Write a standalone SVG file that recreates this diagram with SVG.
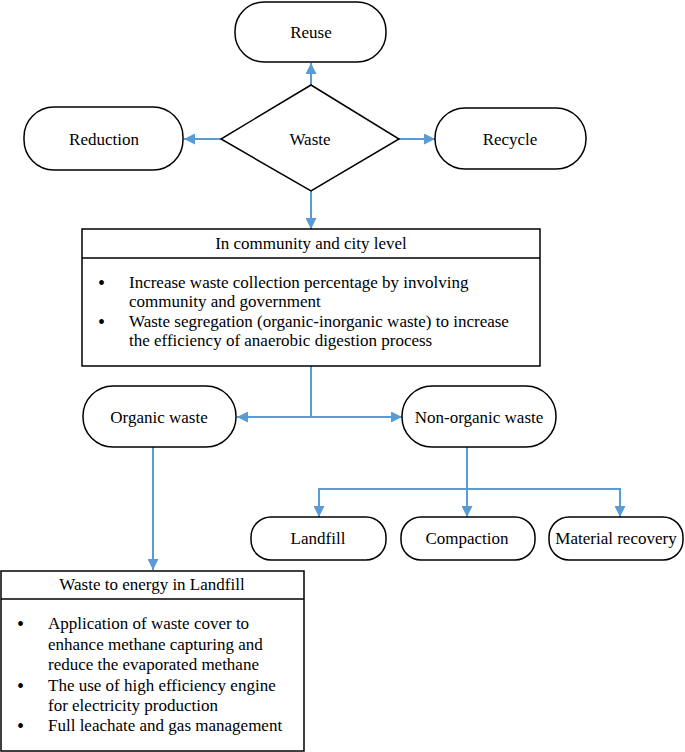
<svg xmlns="http://www.w3.org/2000/svg" width="685" height="752" viewBox="0 0 685 752">
<defs>
<style>
.n{fill:#fff;stroke:#000;stroke-width:1.5}
.t{font-size:17px;fill:#000}
.c{text-anchor:middle}
.b{font-size:20px}
.k{fill:none;stroke:#5B9BD5;stroke-width:2}
</style>
<marker id="a" viewBox="0 0 10 10" refX="10" refY="5" markerWidth="5.5" markerHeight="5.5" orient="auto-start-reverse" markerUnits="strokeWidth">
<path d="M0,0 L10,5 L0,10 z" fill="#5B9BD5"/>
</marker>
</defs>
<rect width="685" height="752" fill="#fff"/>
<g id="connectors">
<line class="k" x1="311" y1="85" x2="311" y2="63" marker-end="url(#a)"/>
<line class="k" x1="221" y1="139" x2="184" y2="139" marker-end="url(#a)"/>
<line class="k" x1="399" y1="139" x2="435" y2="139" marker-end="url(#a)"/>
<line class="k" x1="311" y1="191" x2="311" y2="229" marker-end="url(#a)"/>
<line class="k" x1="311" y1="366" x2="311" y2="417"/>
<line class="k" x1="237" y1="417" x2="402" y2="417" marker-start="url(#a)" marker-end="url(#a)"/>
<line class="k" x1="467" y1="447" x2="467" y2="517" marker-end="url(#a)"/>
<polyline class="k" points="319,517 319,489 620,489 620,517" marker-start="url(#a)" marker-end="url(#a)"/>
<line class="k" x1="153" y1="447" x2="153" y2="570" marker-end="url(#a)"/>
</g>
<g font-family="'Liberation Serif', 'Times New Roman', Times, serif">
<g id="reuse"><rect class="n" x="235" y="2" width="151" height="60" rx="29"/><text class="t c" x="311" y="38">Reuse</text></g>
<g id="reduction"><rect class="n" x="24" y="107" width="159" height="63" rx="30"/><text class="t c" x="104" y="145">Reduction</text></g>
<g id="recycle"><rect class="n" x="435" y="108" width="151" height="61" rx="30"/><text class="t c" x="510" y="145">Recycle</text></g>
<g id="waste"><polygon class="n" points="311,85 399,139 311,191 221,139"/><text class="t c" x="310" y="145">Waste</text></g>
<g id="community">
<rect class="n" x="82" y="229" width="458" height="137"/>
<line stroke="#000" stroke-width="1.5" x1="82" y1="258" x2="540" y2="258"/>
<text class="t c" x="311" y="249">In community and city level</text>
<text class="t b" x="98" y="290">•</text>
<text class="t" x="129" y="288">Increase waste collection percentage by involving</text>
<text class="t" x="129" y="307">community and government</text>
<text class="t b" x="98" y="329">•</text>
<text class="t" x="129" y="327">Waste segregation (organic-inorganic waste) to increase</text>
<text class="t" x="129" y="346">the efficiency of anaerobic digestion process</text>
</g>
<g id="organic"><rect class="n" x="83" y="386" width="153" height="61" rx="30"/><text class="t c" x="159" y="423">Organic waste</text></g>
<g id="nonorganic"><rect class="n" x="402" y="386" width="154" height="61" rx="30"/><text class="t c" x="479" y="423">Non-organic waste</text></g>
<g id="landfill"><rect class="n" x="251" y="517" width="135" height="43" rx="20"/><text class="t c" x="318" y="544">Landfill</text></g>
<g id="compaction"><rect class="n" x="401" y="517" width="134" height="43" rx="20"/><text class="t c" x="467" y="544">Compaction</text></g>
<g id="material"><rect class="n" x="549" y="517" width="134" height="43" rx="20"/><text class="t c" x="616" y="544">Material recovery</text></g>
<g id="wte">
<rect class="n" x="1" y="571" width="303" height="180"/>
<line stroke="#000" stroke-width="1.5" x1="1" y1="599" x2="304" y2="599"/>
<text class="t c" x="152" y="590">Waste to energy in Landfill</text>
<text class="t b" x="17" y="631">•</text>
<text class="t" x="48" y="629">Application of waste cover to</text>
<text class="t" x="48" y="650">enhance methane capturing and</text>
<text class="t" x="48" y="670">reduce the evaporated methane</text>
<text class="t b" x="17" y="693">•</text>
<text class="t" x="48" y="691">The use of high efficiency engine</text>
<text class="t" x="48" y="711">for electricity production</text>
<text class="t b" x="17" y="733">•</text>
<text class="t" x="48" y="731">Full leachate and gas management</text>
</g>
</g>
</svg>
